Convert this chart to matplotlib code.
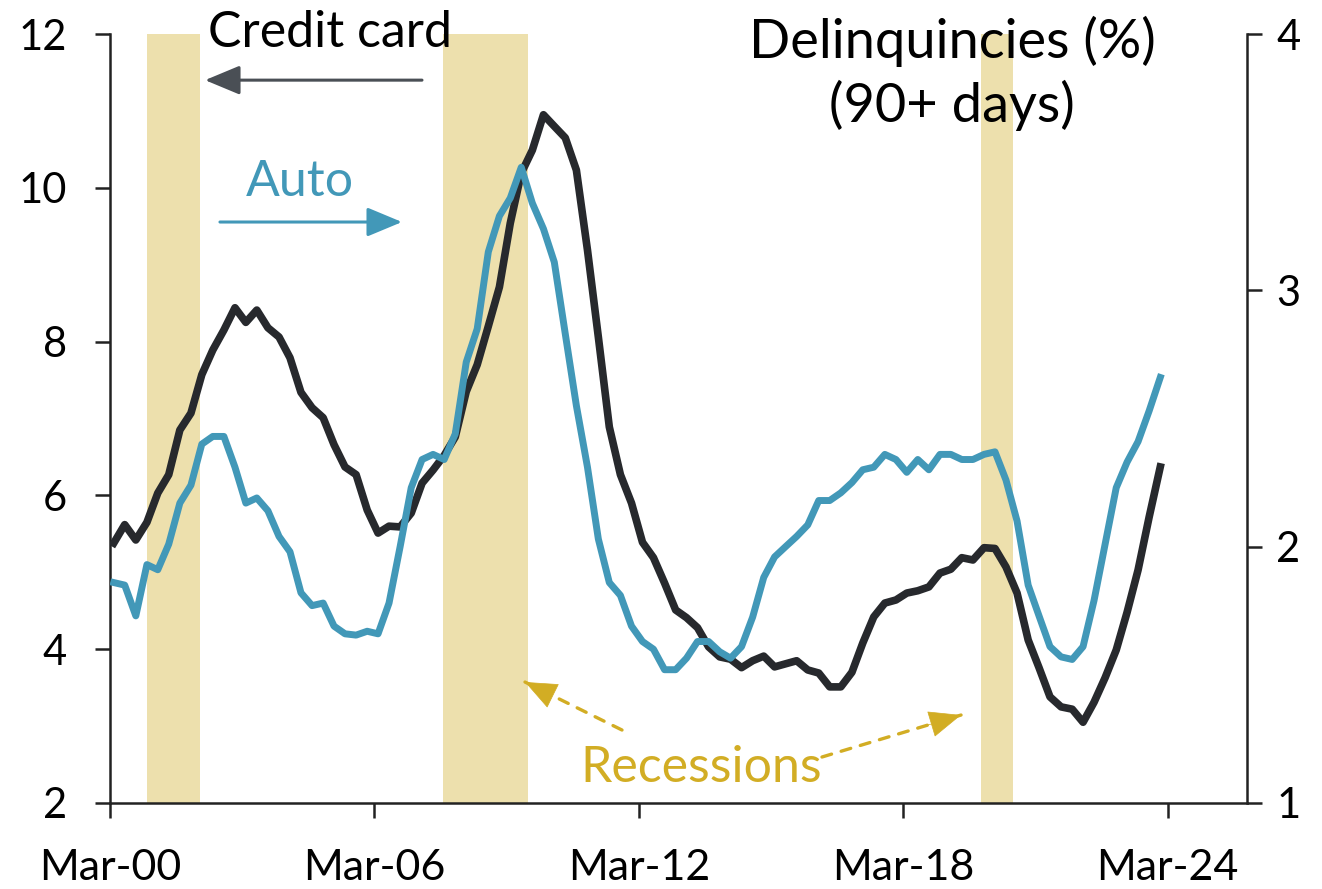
import matplotlib
matplotlib.use("Agg")
import matplotlib.pyplot as plt
import pandas as pd

plt.rcParams['font.family'] = ['Lato', 'DejaVu Sans']

# quarterly data, Q1-2000 .. Q4-2023
quarters = pd.period_range('2000Q1', periods=96, freq='Q').to_timestamp(how='end')

credit_card = [5.38, 5.62, 5.42, 5.65, 6.03, 6.27, 6.85, 7.07, 7.57, 7.89,
               8.15, 8.44, 8.25, 8.41, 8.18, 8.06, 7.79, 7.34, 7.14, 7.01,
               6.66, 6.37, 6.27, 5.81, 5.51, 5.60, 5.59, 5.77, 6.16, 6.33,
               6.52, 6.76, 7.35, 7.70, 8.20, 8.71, 9.54, 10.19, 10.49, 10.95,
               10.80, 10.65, 10.23, 9.19, 8.06, 6.89, 6.27, 5.90, 5.39, 5.19,
               4.86, 4.51, 4.41, 4.28, 4.03, 3.90, 3.87, 3.76, 3.85, 3.91,
               3.77, 3.81, 3.85, 3.73, 3.69, 3.51, 3.51, 3.70, 4.08, 4.42,
               4.60, 4.64, 4.73, 4.76, 4.81, 4.99, 5.04, 5.19, 5.16, 5.32,
               5.31, 5.07, 4.73, 4.12, 3.76, 3.38, 3.25, 3.22, 3.05, 3.31,
               3.63, 3.99, 4.48, 5.03, 5.72, 6.37]

auto = [1.86, 1.85, 1.73, 1.93, 1.91, 2.01, 2.17, 2.24, 2.40, 2.43,
        2.43, 2.31, 2.17, 2.19, 2.14, 2.04, 1.98, 1.82, 1.77, 1.78,
        1.69, 1.66, 1.655, 1.67, 1.66, 1.78, 2.00, 2.23, 2.34, 2.36,
        2.34, 2.44, 2.72, 2.85, 3.15, 3.29, 3.36, 3.48, 3.34, 3.24,
        3.11, 2.83, 2.55, 2.31, 2.03, 1.86, 1.81, 1.69, 1.63, 1.60,
        1.52, 1.52, 1.565, 1.63, 1.63, 1.59, 1.565, 1.61, 1.725, 1.88,
        1.96, 2.00, 2.04, 2.085, 2.18, 2.18, 2.21, 2.25, 2.30, 2.31,
        2.36, 2.34, 2.29, 2.34, 2.30, 2.36, 2.36, 2.34, 2.34, 2.36,
        2.37, 2.26, 2.10, 1.85, 1.73, 1.61, 1.57, 1.56, 1.61, 1.79,
        2.01, 2.23, 2.33, 2.41, 2.53, 2.66]

recession_start = ['2001-01-02', '2007-09-25', '2019-12-08']
recession_end = ['2002-03-17', '2009-08-30', '2020-08-30']

x_ticks = ['2000-03-01', '2006-03-01', '2012-03-01', '2018-03-01', '2024-03-01']
x_labels = ['Mar-00', 'Mar-06', 'Mar-12', 'Mar-18', 'Mar-24']
left_ticks = [2, 4, 6, 8, 10, 12]
right_ticks = [1, 2, 3, 4]

black = '#27292d'
blue = '#4298b8'
sand = '#ede0ad'
gold = '#d2ad24'
arrow_grey = '#4a4f55'

W, H = 1322, 889
fig = plt.figure(figsize=(W / 100, H / 100), dpi=100)
ax = fig.add_axes([110 / W, 1 - 803 / H, (1247 - 110) / W, (803 - 34) / H])

for s, e in zip(recession_start, recession_end):
    ax.axvspan(pd.Timestamp(s), pd.Timestamp(e), color=sand, lw=0, zorder=0)

ax.plot(quarters, credit_card, color=black, lw=5.5, zorder=3)
ax.set_ylim(2, 12)
ax.set_yticks(left_ticks)
ax.set_xlim(pd.Timestamp('2000-03-01'), pd.Timestamp('2025-12-20'))
ax.set_xticks(pd.to_datetime(x_ticks))
ax.set_xticklabels(x_labels)

ax2 = ax.twinx()
ax2.plot(quarters, auto, color=blue, lw=5, zorder=3)
ax2.set_ylim(1, 4)
ax2.set_yticks(right_ticks)

for a in (ax, ax2):
    a.spines['top'].set_visible(False)
    for sp in a.spines.values():
        sp.set_linewidth(1.8)
        sp.set_color('#222222')
ax2.spines['left'].set_visible(False)
ax2.spines['bottom'].set_visible(False)
ax.spines['right'].set_visible(False)

ax.tick_params(axis='y', length=11, width=1.8, pad=20, labelsize=30, color='#222222')
ax.tick_params(axis='x', length=11, width=1.8, pad=22, labelsize=31, color='#222222')
ax2.tick_params(axis='y', length=11, width=1.8, pad=10, labelsize=30, color='#222222')

head = '-|>,head_length=0.6,head_width=0.25'

# annotations
ax.text(0.0862, 0.983, 'Credit card', transform=ax.transAxes, fontsize=36,
        ha='left', va='baseline', zorder=5)
ax.annotate('', xy=(0.0836, 0.940), xytext=(0.2744, 0.940),
            xycoords='axes fraction', textcoords='axes fraction',
            arrowprops=dict(arrowstyle=head, mutation_scale=36, color=arrow_grey,
                            lw=2.2, shrinkA=0, shrinkB=0))

ax.text(0.167, 0.789, 'Auto', transform=ax.transAxes, fontsize=36,
        color=blue, ha='center', va='baseline', zorder=5)
ax.annotate('', xy=(0.2568, 0.7555), xytext=(0.0967, 0.7555),
            xycoords='axes fraction', textcoords='axes fraction',
            arrowprops=dict(arrowstyle=head, mutation_scale=36, color=blue,
                            lw=2.2, shrinkA=0, shrinkB=0))

ax.text(0.7405, 0.969, 'Delinquincies (%)', transform=ax.transAxes, fontsize=39,
        ha='center', va='baseline', zorder=5)
ax.text(0.7405, 0.8856, '(90+ days)', transform=ax.transAxes, fontsize=39,
        ha='center', va='baseline', zorder=5)

ax.text(0.5198, 0.0273, 'Recessions', transform=ax.transAxes, fontsize=36,
        color=gold, ha='center', va='baseline', zorder=5)
for tail, tip in [((0.4503, 0.0949), (0.365, 0.1573)),
                  ((0.6262, 0.0598), (0.7485, 0.1144))]:
    # dashed shaft
    ax.annotate('', xy=tip, xytext=tail,
                xycoords='axes fraction', textcoords='axes fraction',
                arrowprops=dict(arrowstyle='-', color=gold, lw=2.4,
                                linestyle=(0, (3, 3)), shrinkA=0, shrinkB=0))
    # solid head
    back = (tip[0] + (tail[0] - tip[0]) * 0.25, tip[1] + (tail[1] - tip[1]) * 0.25)
    ax.annotate('', xy=tip, xytext=back,
                xycoords='axes fraction', textcoords='axes fraction',
                arrowprops=dict(arrowstyle=head, mutation_scale=36, color=gold,
                                lw=0.5, shrinkA=0, shrinkB=0))

fig.savefig('out.png', dpi=100)
